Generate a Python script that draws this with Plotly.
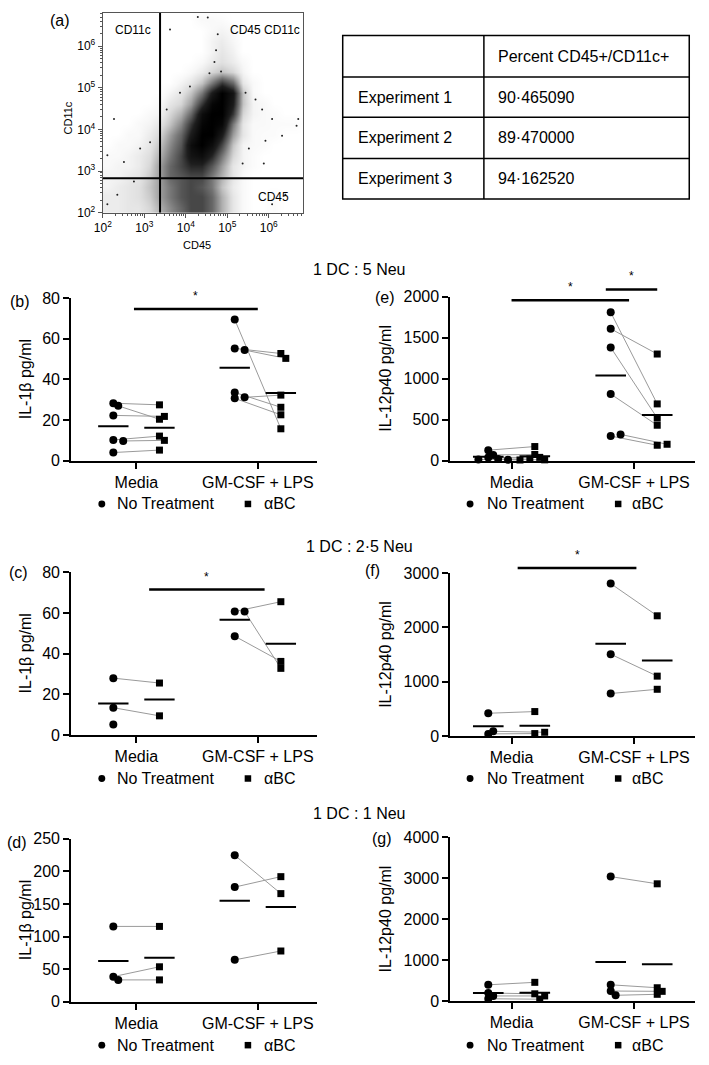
import plotly.graph_objects as go
import numpy as np

W, H = 709, 1065
FONT = "Liberation Sans, Arial, Helvetica, sans-serif"

# ---------------- data ----------------
table_header = ["", "Percent CD45+/CD11c+"]
table_rows = ["Experiment 1", "Experiment 2", "Experiment 3"]
table_values = ["90·465090", "89·470000", "94·162520"]

# flow cytometry (log10 units), density on a 0.25-decade grid
flow_bins = [2.125, 2.375, 2.625, 2.875, 3.125, 3.375, 3.625, 3.875, 4.125, 4.375,
             4.625, 4.875, 5.125, 5.375, 5.625, 5.875, 6.125, 6.375, 6.625, 6.875]
flow_density = [  # rows: CD11c bins bottom -> top ; columns: CD45 bins left -> right
    [0.8, 0.8, 1, 1, 1.5, 2.5, 3.5, 4.5, 5.5, 5.5, 4.5, 2.5, 1, 0.3, 0, 0, 0.2, 0, 0, 0],
    [0.8, 0.8, 1, 1.2, 1.8, 3, 4, 5, 5.5, 5.5, 4.5, 2.5, 1, 0.3, 0, 0, 0.2, 0, 0, 0],
    [0.5, 0.8, 1, 1.2, 2, 3, 4, 5, 5.5, 5, 4, 2, 0.8, 0.3, 0, 0, 0, 0, 0, 0],
    [0.5, 0.5, 0.8, 1, 1.8, 3, 4.5, 5, 5.5, 5.5, 4, 2.5, 1, 0.3, 0, 0, 0, 0, 0, 0],
    [0.3, 0.5, 0.5, 0.8, 1.5, 3, 4.5, 5.5, 6.5, 6.5, 5, 3, 1, 0.5, 0.2, 0, 0, 0, 0, 0],
    [0.3, 0.3, 0.5, 0.8, 1.3, 2.5, 4, 5.5, 7.5, 8, 6.5, 4, 1.5, 0.5, 0.2, 0, 0, 0, 0, 0],
    [0, 0.3, 0.3, 0.5, 1, 2, 3.5, 5, 8, 9, 8, 5.5, 2, 0.5, 0.3, 0.2, 0, 0, 0, 0],
    [0, 0, 0.3, 0.3, 0.8, 1.5, 3, 4.5, 7, 9, 9, 7, 3, 1, 0.3, 0.2, 0.2, 0, 0, 0],
    [0, 0, 0, 0.3, 0.5, 1, 2, 3.5, 6, 8.5, 9, 8.5, 4, 1, 0.3, 0.3, 0.2, 0.2, 0.2, 0],
    [0, 0, 0, 0, 0.3, 0.5, 1.5, 2.5, 4.5, 8, 9, 9, 6, 1.5, 0.5, 0.3, 0.2, 0, 0, 0],
    [0, 0, 0, 0, 0, 0.3, 1, 1.5, 3, 6, 8.5, 9, 7, 2, 0.5, 0.3, 0, 0, 0, 0],
    [0, 0, 0, 0, 0, 0, 0.5, 1, 2, 4, 7, 9, 7.5, 2, 0.3, 0, 0, 0, 0, 0],
    [0, 0, 0, 0, 0, 0, 0, 0.5, 1, 2, 4, 6, 4.5, 1, 0.3, 0, 0, 0, 0, 0],
    [0, 0, 0, 0, 0, 0, 0, 0, 0.3, 0.8, 1.5, 2, 1.5, 0.5, 0, 0, 0, 0, 0, 0],
    [0, 0, 0, 0, 0, 0, 0, 0, 0, 0.3, 0.8, 1.2, 0.8, 0.3, 0, 0, 0, 0, 0, 0],
    [0, 0, 0, 0, 0, 0, 0, 0, 0, 0, 0.5, 1, 0.6, 0, 0, 0, 0, 0, 0, 0],
    [0, 0, 0, 0, 0, 0, 0, 0, 0, 0, 0.5, 0.8, 0.4, 0, 0, 0, 0, 0, 0, 0],
    [0, 0, 0, 0, 0, 0, 0, 0, 0, 0, 0.3, 0.5, 0.3, 0, 0, 0, 0, 0, 0, 0],
    [0, 0, 0, 0, 0, 0, 0, 0, 0, 0.3, 0.3, 0.2, 0, 0, 0, 0, 0, 0, 0, 0],
    [0] * 20,
]
flow_events_cd45 = [4.29, 3.62, 4.53, 4.77, 4.73, 4.69, 4.57, 4.85, 2.27, 6.71, 6.67, 6.32, 5.92,
                    6.08, 5.84, 5.68, 5.44, 5.88, 5.37, 5.52, 3.14, 2.90, 2.51, 2.11, 2.35, 2.11,
                    2.75, 6.40, 6.08, 3.54, 3.86, 4.10]
flow_events_cd11c = [6.70, 6.40, 6.69, 6.29, 5.90, 5.62, 5.35, 5.39, 4.25, 4.25, 4.09, 3.85, 3.73,
                     4.25, 4.48, 4.72, 4.88, 3.18, 3.18, 3.54, 3.69, 3.54, 3.22, 3.38, 2.43, 2.20,
                     2.75, 2.43, 2.20, 4.48, 4.88, 5.03]
gate_cd45 = 3.38
gate_cd11c = 2.83
flow_decades = [2, 3, 4, 5, 6]
flow_ticktext = ["10<sup>2</sup>", "10<sup>3</sup>", "10<sup>4</sup>", "10<sup>5</sup>", "10<sup>6</sup>"]

categories = ["Media", "GM-CSF + LPS"]
group_names = ["No Treatment", "αBC"]

# 1 DC : 5 Neu
b_media_nt = [28.3, 27.0, 22.3, 10.2, 9.7, 4.0]
b_media_abc = [27.5, 20.4, 21.8, 12.1, 10.0, 5.2]
b_gm_nt = [69.5, 55.3, 54.5, 33.6, 30.7, 31.2]
b_gm_abc = [15.7, 52.8, 50.4, 26.3, 22.6, 32.3]
e_media_nt = [128, 70, 40, 20, 15, 10]
e_media_abc = [172, 75, 40, 20, 10, 8]
e_gm_nt = [1808, 1608, 1380, 812, 300, 320]
e_gm_abc = [692, 1300, 520, 432, 188, 200]
# 1 DC : 2.5 Neu
c_media_nt = [28.0, 13.5, 5.2]
c_media_abc = [25.6, 9.5]
c_gm_nt = [60.7, 60.7, 48.6]
c_gm_abc = [65.5, 32.8, 36.2]
f_media_nt = [422, 42, 90]
f_media_abc = [453, 48, 72]
f_gm_nt = [2807, 1509, 785]
f_gm_abc = [2215, 1105, 863]
# 1 DC : 1 Neu
d_media_nt = [115.7, 38.7, 33.7]
d_media_abc = [115.7, 53.8, 33.7]
d_gm_nt = [224.8, 176.0, 64.4]
d_gm_abc = [166.0, 192.0, 78.0]
g_media_nt = [400, 200, 128, 60]
g_media_abc = [460, 180, 128, 48]
g_gm_nt = [3040, 400, 248, 144]
g_gm_abc = [2864, 328, 240, 168]

# significance bars: (x start, x end, y) in data units
sig_b = [(-0.02, 1.0, 74.7)]
sig_e = [(0.0, 0.96, 1956), (0.77, 1.19, 2088)]
sig_c = [(0.105, 1.056, 71.5)]
sig_f = [(0.05, 1.02, 3096)]

row_titles = ["1 DC : 5 Neu", "1 DC : 2·5 Neu", "1 DC : 1 Neu"]

# ---------------- helpers ----------------
def PX(x):
    return x / W


def PY(y):
    return 1 - y / H


def swarm(vals, xppu, yppu, step=5.0, mind=5.5):
    placed, offs = [], []
    for v in vals:
        y = v * yppu
        x = 0
        for k in [0, 1, -1, 2, -2, 3, -3, 4, -4]:
            x = k * step
            if all((x - a) ** 2 + (y - b) ** 2 >= mind ** 2 for a, b in placed):
                break
        placed.append((x, y))
        offs.append(x / xppu)
    return offs


fig = go.Figure()
layout = dict(width=W, height=H, margin=dict(l=0, r=0, t=0, b=0), showlegend=False,
              paper_bgcolor="white", plot_bgcolor="white",
              font=dict(family=FONT, color="black", size=16))
shapes, annos = [], []

# ---------------- panel (a): flow plot ----------------
minor_vals = [d + np.log10(k) for d in [2, 3, 4, 5, 6] for k in range(2, 10) if d + np.log10(k) < 6.83]
ax_flow = dict(showline=True, mirror=True, linecolor="#555", linewidth=1.2, ticks="outside",
               ticklen=4, tickwidth=1, tickcolor="#555", showgrid=False, zeroline=False,
               tickvals=flow_decades, ticktext=flow_ticktext, tickfont=dict(size=12),
               minor=dict(tickvals=minor_vals, ticks="outside", ticklen=2, tickcolor="#555"))
layout["xaxis"] = dict(ax_flow, domain=[PX(95), PX(298)], range=[2, 6.83], anchor="y")
layout["yaxis"] = dict(ax_flow, domain=[PY(208), PY(5)], range=[2, 6.8], anchor="x")

fig.add_trace(go.Heatmap(x=flow_bins, y=flow_bins, z=flow_density, zmin=0, zmax=9, zsmooth="best",
                         colorscale=[[0, "#ffffff"], [0.04, "#f8f8f8"], [0.15, "#dcdcdc"],
                                     [0.45, "#767676"], [0.75, "#1e1e1e"], [1, "#000000"]],
                         showscale=False, hoverinfo="skip", xaxis="x", yaxis="y"))
fig.add_trace(go.Scatter(x=flow_events_cd45, y=flow_events_cd11c, mode="markers",
                         marker=dict(size=2, color="#222"), xaxis="x", yaxis="y"))
fig.add_trace(go.Scatter(x=[gate_cd45, gate_cd45, None, 2, 6.83],
                         y=[2, 6.8, None, gate_cd11c, gate_cd11c], mode="lines",
                         line=dict(color="black", width=2), xaxis="x", yaxis="y"))
annos += [
    dict(text="(a)", x=PX(52), y=PY(13), font=dict(size=16)),
    dict(text="CD11c", x=PX(126), y=PY(22), font=dict(size=12)),
    dict(text="CD45 CD11c", x=PX(259), y=PY(22), font=dict(size=12)),
    dict(text="CD45", x=PX(268), y=PY(192), font=dict(size=12)),
    dict(text="CD45", x=PX(190), y=PY(241), font=dict(size=11)),
    dict(text="CD11c", x=PX(60), y=PY(112), font=dict(size=11), textangle=-90),
]

# ---------------- table ----------------
tx0, tx1, tcol = 338, 689, 481
trows = [28, 70, 111, 153, 194]
tl = dict(color="black", width=1.5)
shapes.append(dict(type="rect", xref="paper", yref="paper", x0=PX(tx0), x1=PX(tx1),
                   y0=PY(trows[-1]), y1=PY(trows[0]), line=tl))
shapes.append(dict(type="line", xref="paper", yref="paper", x0=PX(tcol), x1=PX(tcol),
                   y0=PY(trows[-1]), y1=PY(trows[0]), line=tl))
for yy in trows[1:-1]:
    shapes.append(dict(type="line", xref="paper", yref="paper", x0=PX(tx0), x1=PX(tx1),
                       y0=PY(yy), y1=PY(yy), line=tl))
cells = [table_header] + [[r, v] for r, v in zip(table_rows, table_values)]
for i, (c1, c2) in enumerate(cells):
    yc = (trows[i] + trows[i + 1]) / 2
    if c1:
        annos.append(dict(text=c1, x=PX(351), y=PY(yc), xanchor="left", font=dict(size=16)))
    if c2:
        annos.append(dict(text=c2, x=PX(493), y=PY(yc), xanchor="left", font=dict(size=16)))

# ---------------- dot panels ----------------
LEFT = dict(xdom=(63, 312), xr=(-0.537, 1.488), title="IL-1β pg/ml", tx=17)
RIGHT = dict(xdom=(447, 695), xr=(-0.5, 1.5), title="IL-12p40 pg/ml", tx=381)
panels = [
    dict(LEFT, n=2, ydom=(295, 460), ymax=80, dtick=20, lab="(b)", lp=(11, 298),
         data=(b_media_nt, b_media_abc, b_gm_nt, b_gm_abc), sig=sig_b),
    dict(RIGHT, n=3, ydom=(293.3, 460), ymax=2000, dtick=500, lab="(e)", lp=(381, 294),
         data=(e_media_nt, e_media_abc, e_gm_nt, e_gm_abc), sig=sig_e),
    dict(LEFT, n=4, ydom=(573.3, 739), ymax=80, dtick=20, lab="(c)", lp=(10, 574),
         data=(c_media_nt, c_media_abc, c_gm_nt, c_gm_abc), sig=sig_c),
    dict(RIGHT, n=5, ydom=(574.3, 740), ymax=3000, dtick=1000, lab="(f)", lp=(368, 572),
         data=(f_media_nt, f_media_abc, f_gm_nt, f_gm_abc), sig=sig_f),
    dict(LEFT, n=6, ydom=(844.3, 1010), ymax=250, dtick=50, lab="(d)", lp=(8, 848),
         data=(d_media_nt, d_media_abc, d_gm_nt, d_gm_abc), sig=[]),
    dict(RIGHT, n=7, ydom=(842.7, 1009.3), ymax=4000, dtick=1000, lab="(g)", lp=(378, 844),
         data=(g_media_nt, g_media_abc, g_gm_nt, g_gm_abc), sig=[]),
]

GOFF = 0.19   # group offset from category centre
MW = 0.125    # half width of mean bar

for p in panels:
    n = p["n"]
    xa, ya = f"x{n}", f"y{n}"
    x0p, x1p = p["xdom"]
    ytop, ybot = p["ydom"]
    xr0, xr1 = p["xr"]
    xppu = (x1p - x0p) / (xr1 - xr0)
    yppu = (ybot - ytop) / p["ymax"]
    axstyle = dict(showline=True, linewidth=2, linecolor="black", ticks="outside", ticklen=6,
                   tickwidth=2, tickcolor="black", showgrid=False, zeroline=False,
                   tickfont=dict(size=16, family=FONT, color="black"))
    layout[f"xaxis{n}"] = dict(axstyle, domain=[PX(x0p), PX(x1p)], range=[xr0, xr1],
                               tickvals=[0, 1], ticktext=categories, anchor=ya)
    layout[f"yaxis{n}"] = dict(axstyle, domain=[PY(ybot), PY(ytop)], range=[0, p["ymax"]],
                               dtick=p["dtick"], anchor=xa)

    m_nt, m_abc, g_nt, g_abc = p["data"]
    conn_x, conn_y, mean_x, mean_y = [], [], [], []
    nt_x, nt_y, ab_x, ab_y = [], [], [], []
    for ci, (nt, ab) in enumerate([(m_nt, m_abc), (g_nt, g_abc)]):
        cnt = ci - GOFF
        cab = ci + GOFF
        ont = swarm(nt, xppu, yppu)
        oab = swarm(ab, xppu, yppu)
        xs_nt = [cnt + o for o in ont]
        xs_ab = [cab + o for o in oab]
        for k in range(min(len(nt), len(ab))):
            conn_x += [xs_nt[k], xs_ab[k], None]
            conn_y += [nt[k], ab[k], None]
        for c, vals in [(cnt, nt), (cab, ab)]:
            mv = float(np.mean(vals))
            mean_x += [c - MW, c + MW, None]
            mean_y += [mv, mv, None]
        nt_x += xs_nt
        nt_y += list(nt)
        ab_x += xs_ab
        ab_y += list(ab)
    fig.add_trace(go.Scatter(x=conn_x, y=conn_y, mode="lines", line=dict(color="#9a9a9a", width=1),
                             xaxis=xa, yaxis=ya, cliponaxis=False))
    fig.add_trace(go.Scatter(x=mean_x, y=mean_y, mode="lines", line=dict(color="black", width=2),
                             xaxis=xa, yaxis=ya, cliponaxis=False))
    fig.add_trace(go.Scatter(x=nt_x, y=nt_y, mode="markers", name=group_names[0],
                             marker=dict(symbol="circle", size=8, color="black"),
                             xaxis=xa, yaxis=ya, cliponaxis=False))
    fig.add_trace(go.Scatter(x=ab_x, y=ab_y, mode="markers", name=group_names[1],
                             marker=dict(symbol="square", size=7, color="black"),
                             xaxis=xa, yaxis=ya, cliponaxis=False))

    # significance bars + stars
    for (s0, s1, sy) in p["sig"]:
        px0 = x0p + (s0 - xr0) * xppu
        px1 = x0p + (s1 - xr0) * xppu
        py = ybot - sy * yppu
        shapes.append(dict(type="line", xref="paper", yref="paper", x0=PX(px0), x1=PX(px1),
                           y0=PY(py), y1=PY(py), line=dict(color="black", width=2.5)))
        annos.append(dict(text="*", x=PX((px0 + px1) / 2), y=PY(py - 4), yanchor="bottom",
                          font=dict(size=12)))

    # panel label, y title
    annos.append(dict(text=p["lab"], x=PX(p["lp"][0]), y=PY(p["lp"][1]), font=dict(size=16)))
    annos.append(dict(text=p["title"], x=PX(p["tx"]), y=PY((ytop + ybot) / 2), textangle=-90,
                      font=dict(size=16)))

# row titles
for t, yy in zip(row_titles, [266, 547, 819]):
    annos.append(dict(text=t, x=PX(355), y=PY(yy), font=dict(size=16)))

# legends (drawn as paper shapes + text)
for yy in [504, 783, 1054]:
    for cx, tx, sx, ax in [(94, 107, 242, 256), (467, 482, 617, 629)]:
        r = 3.5
        shapes.append(dict(type="circle", xref="paper", yref="paper", x0=PX(cx - r), x1=PX(cx + r),
                           y0=PY(yy + r), y1=PY(yy - r), fillcolor="black", line=dict(width=0)))
        s = 3.3
        shapes.append(dict(type="rect", xref="paper", yref="paper", x0=PX(sx - s), x1=PX(sx + s),
                           y0=PY(yy + s), y1=PY(yy - s), fillcolor="black", line=dict(width=0)))
        annos.append(dict(text=group_names[0], x=PX(tx), y=PY(yy), xanchor="left", font=dict(size=16)))
        annos.append(dict(text=group_names[1], x=PX(ax), y=PY(yy), xanchor="left", font=dict(size=16)))

for a in annos:
    a.setdefault("xref", "paper")
    a.setdefault("yref", "paper")
    a.setdefault("showarrow", False)
    a.setdefault("xanchor", "center")
    a.setdefault("yanchor", "middle")
    a["font"] = dict(a.get("font", {}), family=FONT, color="black")

layout["shapes"] = shapes
layout["annotations"] = annos
fig.update_layout(**layout)
fig.write_html("out.html", config={"displayModeBar": False},
               post_script="document.body.style.margin='0px';")
